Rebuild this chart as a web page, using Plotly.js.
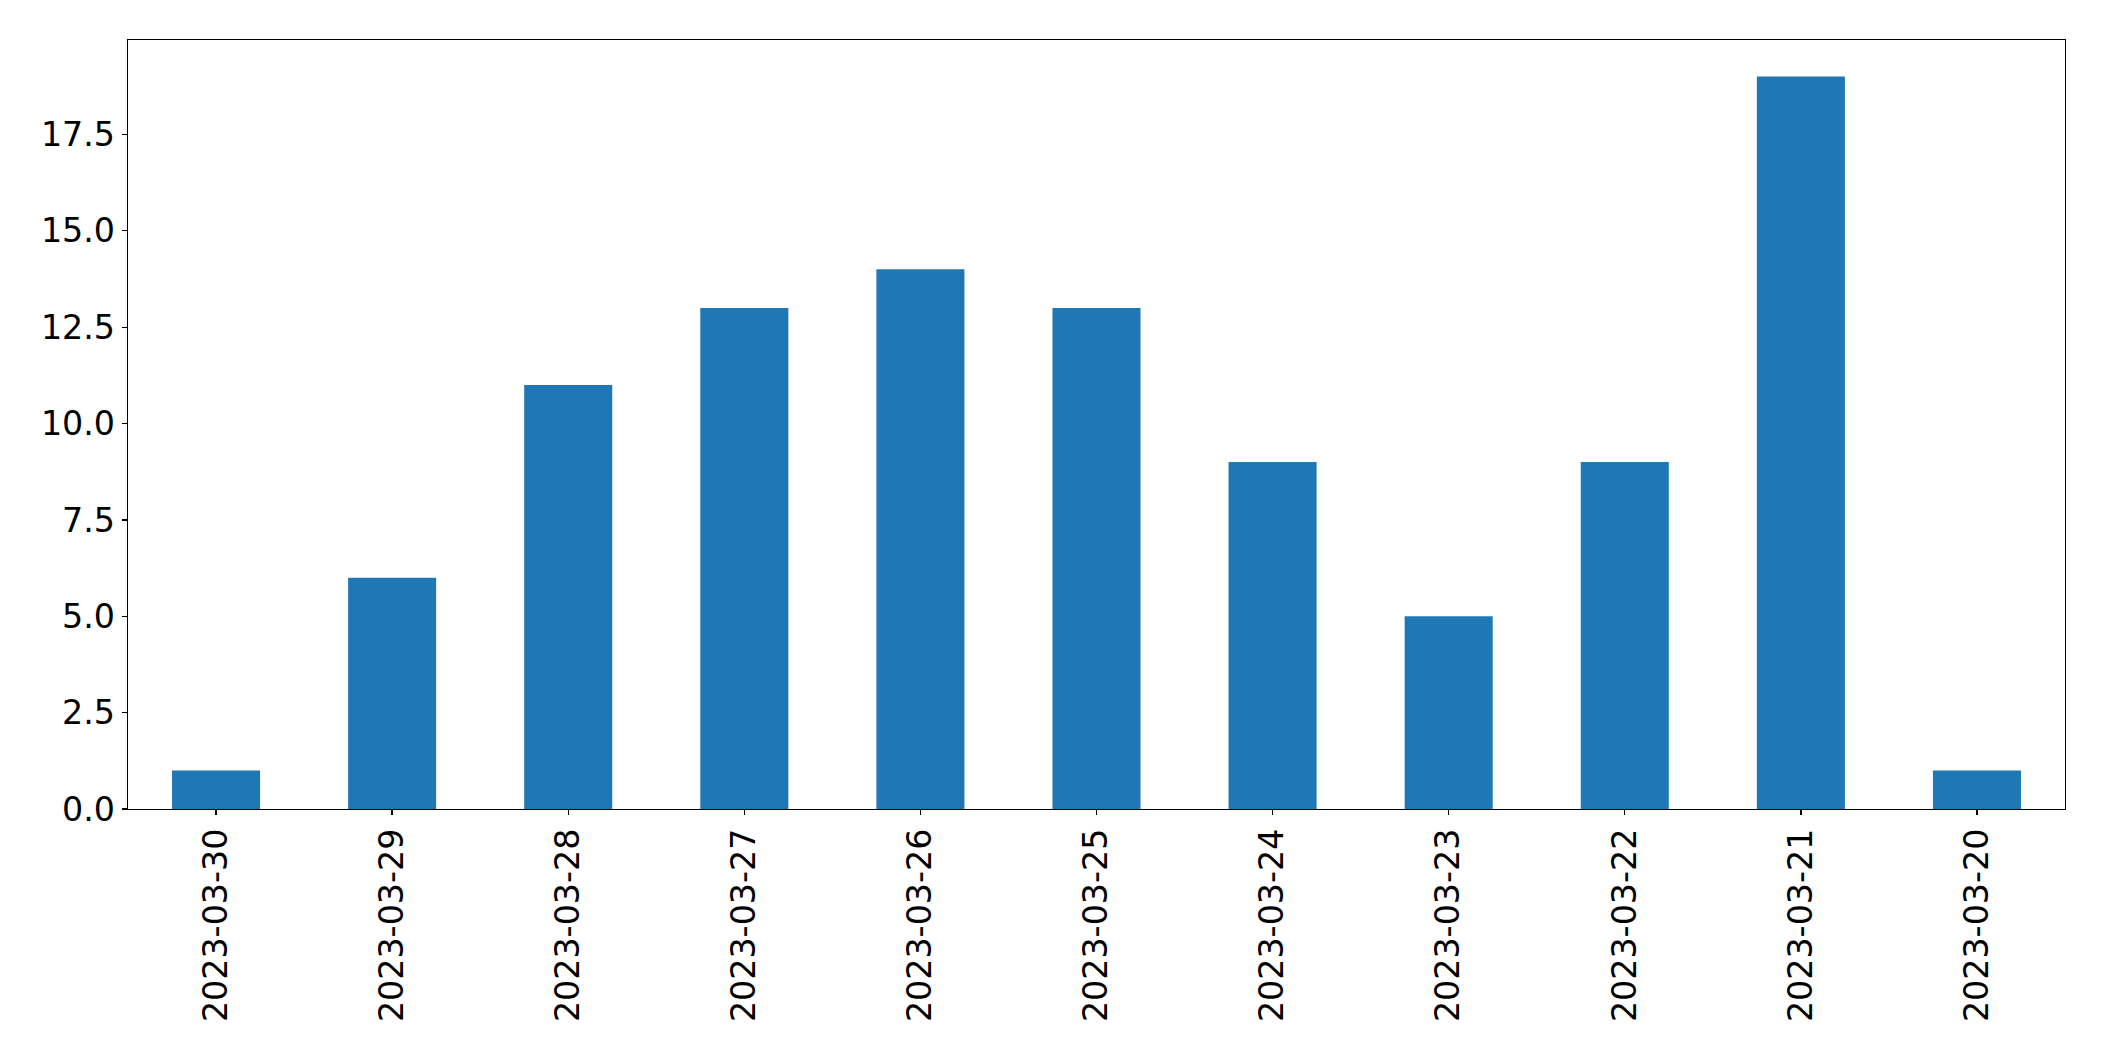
<!DOCTYPE html>
<html>
<head>
<meta charset="utf-8">
<script src="https://cdn.plot.ly/plotly-3.0.1.min.js"></script>
<style>html,body{margin:0;padding:0;background:#fff;}#chart{width:2104px;height:1061px;}</style>
</head>
<body>
<div id="chart"></div>
<script>
const dates = ["2023-03-30","2023-03-29","2023-03-28","2023-03-27","2023-03-26","2023-03-25","2023-03-24","2023-03-23","2023-03-22","2023-03-21","2023-03-20"];
const counts = [1, 6, 11, 13, 14, 13, 9, 5, 9, 19, 1];
const yTicks = [0, 2.5, 5, 7.5, 10, 12.5, 15, 17.5];
const yTickText = ["0.0","2.5","5.0","7.5","10.0","12.5","15.0","17.5"];

const trace = {
  type: 'bar',
  x: dates,
  y: counts,
  width: 0.5,
  marker: {color: '#1f77b4', line: {width: 0}},
  hoverinfo: 'x+y'
};

const layout = {
  width: 2104,
  height: 1061,
  margin: {l: 127.5, r: 38.5, t: 39.5, b: 252, pad: 0},
  paper_bgcolor: '#fff',
  plot_bgcolor: '#fff',
  showlegend: false,
  font: {family: 'DejaVu Sans', size: 33.3, color: '#000'},
  bargap: 0.5,
  xaxis: {
    type: 'category',
    range: [-0.5, 10.5],
    tickangle: -90,
    ticks: 'outside',
    ticklen: 5,
    tickwidth: 1.3,
    tickcolor: '#000',
    showline: true,
    linecolor: '#000',
    linewidth: 1.3,
    mirror: true,
    showgrid: false,
    zeroline: false,
    tickfont: {family: 'DejaVu Sans', size: 33.3, color: '#000'}
  },
  yaxis: {
    range: [0, 19.95],
    tickmode: 'array',
    tickvals: yTicks,
    ticktext: yTickText,
    ticks: 'outside',
    ticklen: 5,
    tickwidth: 1.3,
    tickcolor: '#000',
    showline: true,
    linecolor: '#000',
    linewidth: 1.3,
    mirror: true,
    showgrid: false,
    zeroline: false,
    tickfont: {family: 'DejaVu Sans', size: 33.3, color: '#000'}
  }
};

Plotly.newPlot('chart', [trace], layout, {displayModeBar: false, staticPlot: true});
</script>
</body>
</html>
